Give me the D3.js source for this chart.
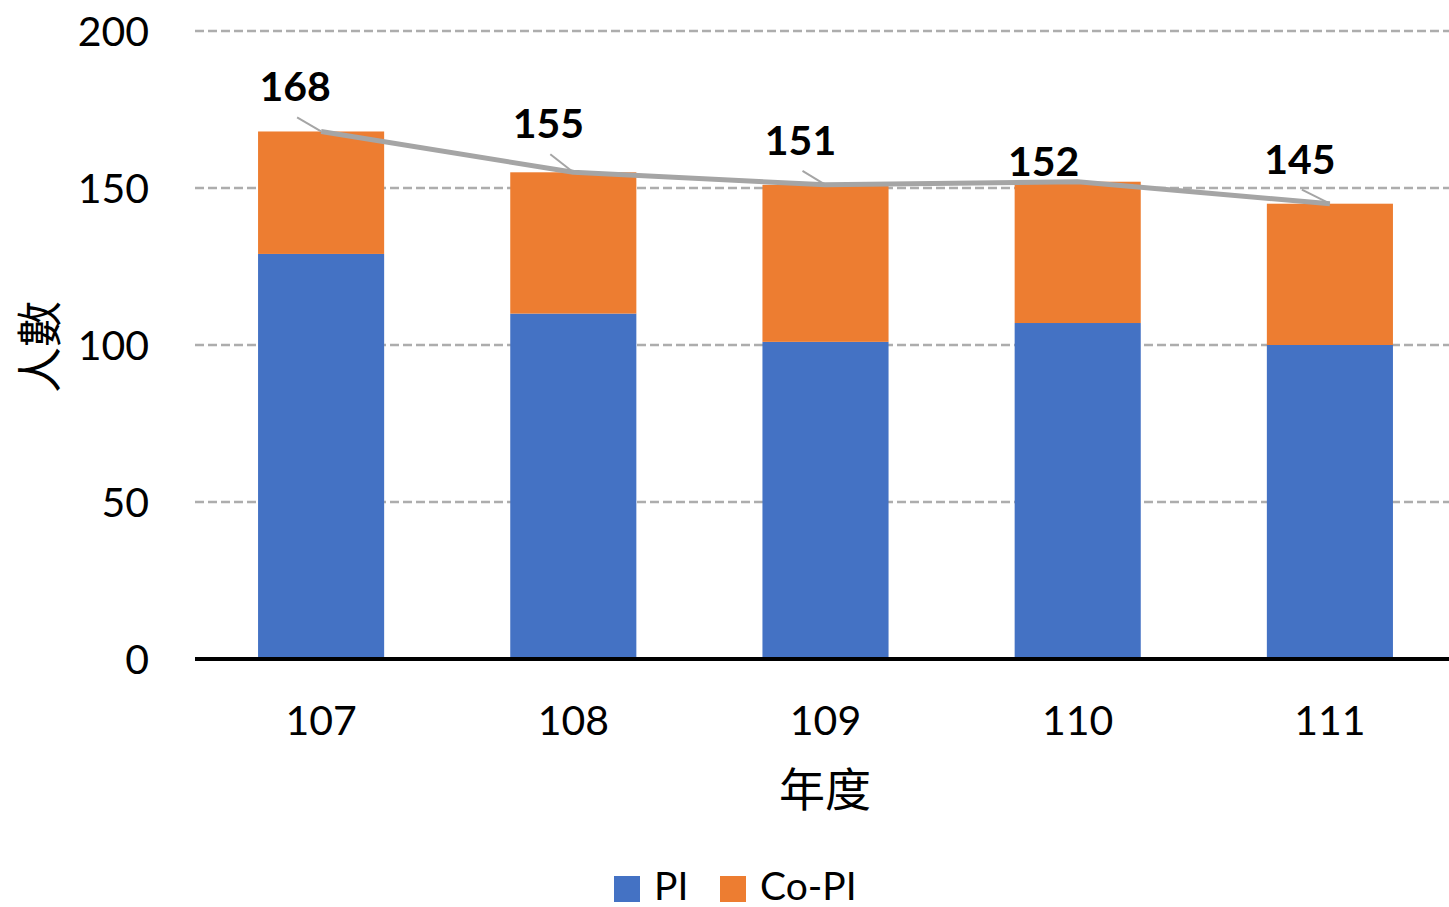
<!DOCTYPE html>
<html>
<head>
<meta charset="utf-8">
<script src="https://cdn.jsdelivr.net/npm/d3@7"></script>
<style>
  html, body { margin: 0; padding: 0; background: #fff; }
  svg { display: block; font-family: Lato, "Noto Sans CJK TC", sans-serif; }
</style>
</head>
<body>
<svg id="chart" width="1449" height="907"></svg>
<script>
// Research personnel per academic year
const years = ["107", "108", "109", "110", "111"];
const piCounts = [129, 110, 101, 107, 100];
const coPiCounts = [39, 45, 50, 45, 45];
const totals = [168, 155, 151, 152, 145];
const yTicks = [0, 50, 100, 150, 200];
const seriesNames = ["PI", "Co-PI"];

// label placement relative to each total point (dx, dy of text baseline centre)
const labelOffsets = [[-26, -30], [-25, -34], [-25, -30], [-34, -6], [-30, -30]];

const colors = { PI: "#4472C4", "Co-PI": "#ED7D31" };
const plot = { left: 195, right: 1456, top: 31, bottom: 659 };

const svg = d3.select("#chart");

const x = d3.scaleBand().domain(years).range([plot.left, plot.right]).paddingInner(0.5).paddingOuter(0.25);
const y = d3.scaleLinear().domain([0, 200]).range([plot.bottom, plot.top]);

// gridlines
svg.append("g").selectAll("line").data(yTicks.filter(d => d > 0)).join("line")
  .attr("x1", plot.left).attr("x2", plot.right)
  .attr("y1", d => y(d)).attr("y2", d => y(d))
  .attr("stroke", "#ADADAD").attr("stroke-width", 2.5).attr("stroke-dasharray", "9,4");

// y tick labels
const yAxis = d3.axisLeft(y).tickValues(yTicks).tickSize(0).tickPadding(46);
const gy = svg.append("g").attr("transform", `translate(${plot.left},0)`).call(yAxis);
gy.select(".domain").remove();
gy.selectAll("text").attr("font-size", 41).attr("fill", "#000").attr("font-family", "Lato").attr("dy", "0.35em");

// stacked bars
const rows = years.map((yr, i) => ({ year: yr, PI: piCounts[i], "Co-PI": coPiCounts[i] }));
const stacked = d3.stack().keys(seriesNames)(rows);
svg.append("g").selectAll("g").data(stacked).join("g")
  .attr("fill", d => colors[d.key])
  .selectAll("rect").data(d => d).join("rect")
  .attr("x", d => x(d.data.year))
  .attr("width", x.bandwidth())
  .attr("y", d => y(d[1]))
  .attr("height", d => y(d[0]) - y(d[1]));

// x axis baseline and labels
const xAxis = d3.axisBottom(x).tickSize(0).tickPadding(62);
const gx = svg.append("g").attr("transform", `translate(0,${plot.bottom})`).call(xAxis);
gx.select(".domain").attr("stroke", "#000").attr("stroke-width", 4)
  .attr("d", `M${plot.left},0H${plot.right}`);
gx.selectAll("text").attr("font-size", 41).attr("fill", "#000").attr("font-family", "Lato").attr("dy", "0.35em");

// total line
const cx = d => x(d) + x.bandwidth() / 2;
const line = d3.line().x((d, i) => cx(years[i])).y(d => y(d));
svg.append("path").datum(totals)
  .attr("d", line).attr("fill", "none")
  .attr("stroke", "#A5A5A5").attr("stroke-width", 5).attr("stroke-linejoin", "round");

// total labels with leader lines
const lbl = svg.append("g");
totals.forEach((t, i) => {
  const px = cx(years[i]), py = y(t);
  const [dx, dy] = labelOffsets[i];
  const tx = px + dx, ty = py + dy;
  if (dy < -20) {
    lbl.append("line")
      .attr("x1", tx + 2).attr("y1", ty + 16)
      .attr("x2", px).attr("y2", py)
      .attr("stroke", "#A5A5A5").attr("stroke-width", 2);
  }
  lbl.append("text")
    .attr("x", tx).attr("y", ty)
    .attr("text-anchor", "middle")
    .attr("font-size", 41).attr("font-weight", 700).attr("font-family", "Lato")
    .attr("fill", "#000")
    .text(t);
});

// axis titles
svg.append("text")
  .attr("x", 825).attr("y", 806)
  .attr("text-anchor", "middle")
  .attr("font-size", 46).attr("font-family", "Noto Sans CJK TC").attr("fill", "#000")
  .text("年度");
svg.append("text")
  .attr("transform", "translate(56,347) rotate(-90)")
  .attr("text-anchor", "middle")
  .attr("font-size", 46).attr("font-family", "Noto Sans CJK TC").attr("fill", "#000")
  .text("人數");

// legend
const legend = svg.append("g");
const legendItems = [{ key: "PI", x: 614 }, { key: "Co-PI", x: 720 }];
legendItems.forEach(it => {
  legend.append("rect").attr("x", it.x).attr("y", 876).attr("width", 26).attr("height", 26)
    .attr("fill", colors[it.key]);
  legend.append("text").attr("x", it.x + 40).attr("y", 900)
    .attr("font-size", 39).attr("font-family", "Lato").attr("fill", "#000")
    .text(it.key);
});
</script>
</body>
</html>
